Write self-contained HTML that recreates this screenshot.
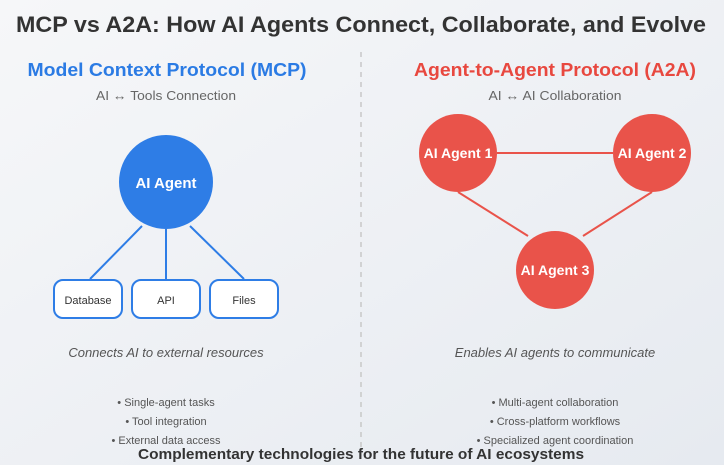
<!DOCTYPE html>
<html><head><meta charset="utf-8"><style>
html,body{margin:0;padding:0;width:724px;height:465px;overflow:hidden}
svg{display:block;font-family:"Liberation Sans",Arial,sans-serif}
</style></head><body>
<svg width="724" height="465" viewBox="0 0 724 465" xmlns="http://www.w3.org/2000/svg">
<defs><linearGradient id="bg" x1="0" y1="0" x2="1" y2="1"><stop offset="0" stop-color="#f6f7f9"/><stop offset="1" stop-color="#e6eaf0"/></linearGradient></defs>
<rect width="724" height="465" fill="url(#bg)"/>
<text x="361" y="32" text-anchor="middle" font-size="22" font-weight="bold" fill="#333" textLength="690" lengthAdjust="spacingAndGlyphs">MCP vs A2A: How AI Agents Connect, Collaborate, and Evolve</text>
<line x1="361" y1="52" x2="361" y2="448" stroke="#c8c8c8" stroke-width="1.5" stroke-dasharray="5,5"/>
<text x="167" y="76" text-anchor="middle" font-size="18" font-weight="bold" fill="#2b7be4" textLength="279" lengthAdjust="spacingAndGlyphs">Model Context Protocol (MCP)</text>
<text x="166" y="100" text-anchor="middle" font-size="13" fill="#666" textLength="140" lengthAdjust="spacingAndGlyphs">AI ↔ Tools Connection</text>
<g stroke="#2e7de6" stroke-width="2">
<line x1="142" y1="226" x2="90" y2="279"/><line x1="166" y1="229" x2="166" y2="279"/><line x1="190" y1="226" x2="244" y2="279"/>
</g>
<circle cx="166" cy="182" r="47" fill="#2e7de6"/>
<text x="166" y="188" text-anchor="middle" font-size="15" font-weight="bold" fill="#fff">AI Agent</text>
<g fill="#fff" stroke="#2e7de6" stroke-width="2">
<rect x="54" y="280" width="68" height="38" rx="9"/><rect x="132" y="280" width="68" height="38" rx="9"/><rect x="210" y="280" width="68" height="38" rx="9"/>
</g>
<g font-size="11" fill="#333" text-anchor="middle">
<text x="88" y="304">Database</text><text x="166" y="304">API</text><text x="244" y="304">Files</text>
</g>
<text x="166" y="357" text-anchor="middle" font-size="13" font-style="italic" fill="#555">Connects AI to external resources</text>
<g font-size="11" fill="#555" text-anchor="middle">
<text x="166" y="406">• Single-agent tasks</text><text x="166" y="425">• Tool integration</text><text x="166" y="444">• External data access</text>
</g>
<text x="555" y="76" text-anchor="middle" font-size="18" font-weight="bold" fill="#e8483f" textLength="282" lengthAdjust="spacingAndGlyphs">Agent-to-Agent Protocol (A2A)</text>
<text x="555" y="100" text-anchor="middle" font-size="13" fill="#666" textLength="133" lengthAdjust="spacingAndGlyphs">AI ↔ AI Collaboration</text>
<g stroke="#e9534a" stroke-width="2">
<line x1="497" y1="153" x2="613" y2="153"/><line x1="458" y1="192" x2="528" y2="236"/><line x1="652" y1="192" x2="583" y2="236"/>
</g>
<g fill="#e9534a"><circle cx="458" cy="153" r="39"/><circle cx="652" cy="153" r="39"/><circle cx="555" cy="270" r="39"/></g>
<g font-size="14" font-weight="bold" fill="#fff" text-anchor="middle">
<text x="458" y="158">AI Agent 1</text><text x="652" y="158">AI Agent 2</text><text x="555" y="275">AI Agent 3</text>
</g>
<text x="555" y="357" text-anchor="middle" font-size="13" font-style="italic" fill="#555">Enables AI agents to communicate</text>
<g font-size="11" fill="#555" text-anchor="middle">
<text x="555" y="406">• Multi-agent collaboration</text><text x="555" y="425">• Cross-platform workflows</text><text x="555" y="444">• Specialized agent coordination</text>
</g>
<text x="361" y="459" text-anchor="middle" font-size="15" font-weight="bold" fill="#333" textLength="446" lengthAdjust="spacingAndGlyphs">Complementary technologies for the future of AI ecosystems</text>
</svg>
</body></html>
